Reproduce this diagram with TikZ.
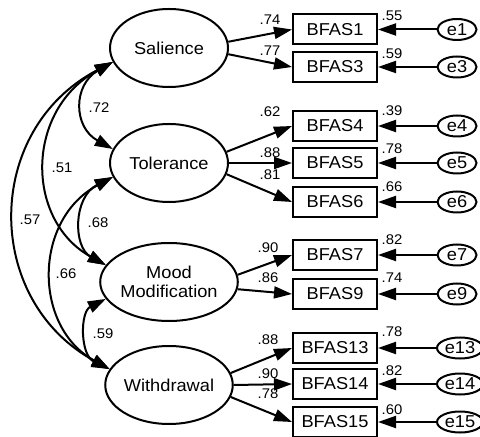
\documentclass[tikz,border=0pt]{standalone}
\usepackage{fontspec}
\setmainfont[FakeStretch=1.06]{Liberation Sans}
\usetikzlibrary{arrows.meta,shapes.geometric}

\begin{document}
\begin{tikzpicture}[x=0.5pt,y=-0.5pt,
  line width=1pt,
  latent/.style={ellipse, draw, minimum width=59pt, minimum height=39pt,
    inner sep=0pt, align=center, font=\fontsize{8.6}{9.6}\selectfont},
  item/.style={rectangle, draw, minimum width=42pt, minimum height=15pt,
    inner sep=0pt, font=\fontsize{8.6}{9.6}\selectfont},
  err/.style={ellipse, draw, minimum width=19.5pt, minimum height=10.5pt,
    inner sep=0pt, font=\fontsize{8.6}{9.6}\selectfont},
  errw/.style={err, minimum width=23pt},
  coef/.style={inner sep=0pt, font=\fontsize{7}{8}\selectfont},
  tip/.tip={Triangle[length=9pt,width=6pt]},
  load/.style={-tip},
  cov/.style={tip-tip},
]
\useasboundingbox (0,0) rectangle (480,437);
\clip (0,0) rectangle (480,437);

% latent factors
\node[latent] (sal) at (169,48)  {Salience};
\node[latent] (tol) at (169,163) {Tolerance};
\node[latent] (mm)  at (169,282) {Mood\\Modification};
\node[latent] (wd)  at (169,385) {Withdrawal};

% observed items
\node[item] (b1)  at (335,29.5) {BFAS1};
\node[item] (b3)  at (335,67)   {BFAS3};
\node[item] (b4)  at (335,126)  {BFAS4};
\node[item] (b5)  at (335,163)  {BFAS5};
\node[item] (b6)  at (335,202)  {BFAS6};
\node[item] (b7)  at (335,255)  {BFAS7};
\node[item] (b9)  at (335,294)  {BFAS9};
\node[item] (b13) at (335,348)  {BFAS13};
\node[item] (b14) at (335,384)  {BFAS14};
\node[item] (b15) at (335,422)  {BFAS15};

% error terms
\node[err]  (e1)  at (457,29.5) {e1};
\node[err]  (e3)  at (457,67)   {e3};
\node[err]  (e4)  at (457,126)  {e4};
\node[err]  (e5)  at (457,163)  {e5};
\node[err]  (e6)  at (457,202)  {e6};
\node[err]  (e7)  at (457,255)  {e7};
\node[err]  (e9)  at (457,294)  {e9};
\node[errw] (e13) at (460,348)  {e13};
\node[errw] (e14) at (460,384)  {e14};
\node[errw] (e15) at (460,422)  {e15};

% factor loadings
\draw[load] (sal.6)   -- (b1.west);
\draw[load] (sal.-6)  -- (b3.west);
\draw[load] (tol.11)  -- (b4.west);
\draw[load] (tol.east)-- (b5.west);
\draw[load] (tol.-11) -- (b6.west);
\draw[load] (mm.6)    -- (b7.west);
\draw[load] (mm.-6)   -- (b9.west);
\draw[load] (wd.11)   -- (b13.west);
\draw[load] (wd.east) -- (b14.west);
\draw[load] (wd.-11)  -- (b15.west);

% error paths
\foreach \e/\b in {e1/b1,e3/b3,e4/b4,e5/b5,e6/b6,e7/b7,e9/b9,e13/b13,e14/b14,e15/b15}
  \draw[load] (\e.west) -- (\b.east);

% factor covariances
\draw[cov] (sal.194) .. controls (73,85)   and (73,127)  .. (tol.166);
\draw[cov] (sal.194) .. controls (25,110)  and (25,220)  .. (mm.165);
\draw[cov] (sal.194) .. controls (-17,130) and (-17,300) .. (wd.165);
\draw[cov] (tol.194) .. controls (73,197)  and (73,247)  .. (mm.165);
\draw[cov] (tol.194) .. controls (33,220)  and (33,327)  .. (wd.165);
\draw[cov] (mm.195)  .. controls (80,312)  and (80,355)  .. (wd.165);

% correlation labels
\node[coef] (r1) at (99,108)  {.72};
\node[coef] (r2) at (62,168)  {.51};
\node[coef] (r3) at (30,220)  {.57};
\node[coef] (r4) at (98,223)  {.68};
\node[coef] (r5) at (66,274)  {.66};
\node[coef] (r6) at (103,334) {.59};

% loading labels
\node[coef] (l1)  at (270,20)  {.74};
\node[coef] (l3)  at (270,51)  {.77};
\node[coef] (l4)  at (270,112) {.62};
\node[coef] (l5)  at (270,153) {.88};
\node[coef] (l6)  at (270,175) {.81};
\node[coef] (l7)  at (268,248) {.90};
\node[coef] (l9)  at (268,278) {.86};
\node[coef] (l13) at (268,340) {.88};
\node[coef] (l14) at (268,374) {.90};
\node[coef] (l15) at (268,394) {.78};

% squared multiple correlations
\node[coef] (s1)  at (392,16)  {.55};
\node[coef] (s3)  at (392,54)  {.59};
\node[coef] (s4)  at (392,111) {.39};
\node[coef] (s5)  at (392,149) {.78};
\node[coef] (s6)  at (392,187) {.66};
\node[coef] (s7)  at (392,240) {.82};
\node[coef] (s9)  at (392,278) {.74};
\node[coef] (s13) at (392,332) {.78};
\node[coef] (s14) at (392,371) {.82};
\node[coef] (s15) at (392,410) {.60};
\end{tikzpicture}
\end{document}
